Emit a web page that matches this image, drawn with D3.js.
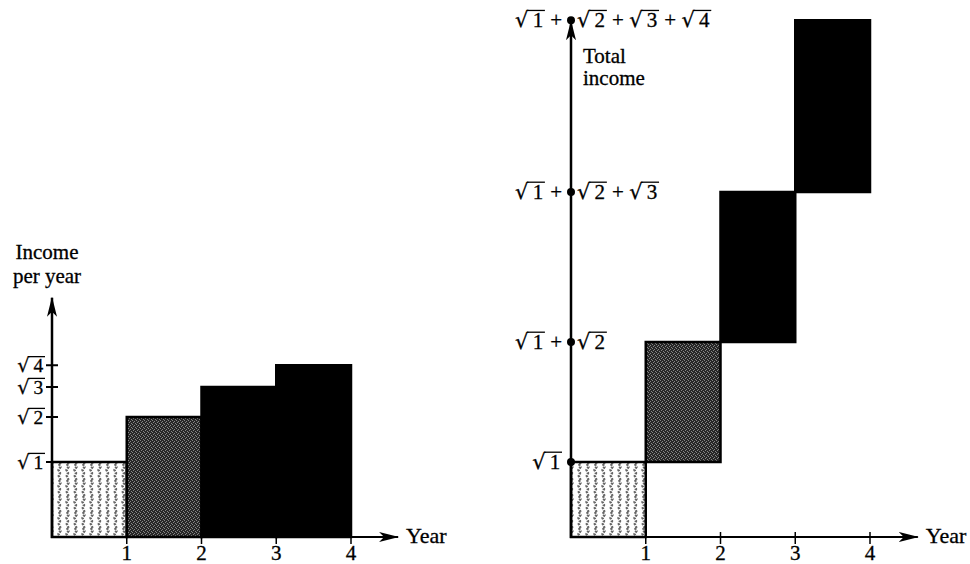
<!DOCTYPE html>
<html><head><meta charset="utf-8">
<script src="https://cdn.jsdelivr.net/npm/d3@7"></script>
<style>
html,body{margin:0;padding:0;background:#fff;}
svg text{font-family:"Liberation Serif","Times New Roman",serif;fill:#000;stroke:#000;stroke-width:0.3;}
svg text tspan.rad{font-family:"DejaVu Serif",serif;}
</style>
</head><body>
<svg id="c" width="970" height="564"></svg>
<script>
// ---- data (drawing is not to scale in the original) ----
const years = [1, 2, 3, 4];
const incomeHeights = [1.0, 1.6, 2.0, 2.29];     // drawn bar heights, unit = height of √1
const radicands = [1, 2, 3, 4];                   // y tick labels √1 … √4
const xTickLabels = ["1", "2", "3", "4"];
const leftYTitle = ["Income", "per year"];
const rightYTitle = ["Total", "income"];
const xTitle = "Year";
const barFills = ["url(#light)", "url(#dark)", "#000", "#000"];

const RAD_FS = 21, LBL_FS = 21;
const svg = d3.select("#c");
const defs = svg.append("defs");

// light wavy stipple pattern
const pl = defs.append("pattern").attr("id","light").attr("patternUnits","userSpaceOnUse")
  .attr("width",8).attr("height",16);
pl.append("rect").attr("width",8).attr("height",16).attr("fill","#fff");
pl.append("path").attr("d","M3,0 L4.5,3 L2.5,6 L4,9 L2.8,12 L4.5,16")
  .attr("fill","none").attr("stroke","#666").attr("stroke-width",2.4).attr("stroke-dasharray","2 1.2");
// dark stipple pattern
const pd = defs.append("pattern").attr("id","dark").attr("patternUnits","userSpaceOnUse")
  .attr("width",4).attr("height",4);
pd.append("rect").attr("width",4).attr("height",4).attr("fill","#262626");
[[0,0],[2,1],[1,2],[3,3]].forEach(([x,y]) => pd.append("rect").attr("x",x).attr("y",y).attr("width",1).attr("height",1).attr("fill","#858585"));
// arrowhead
defs.append("marker").attr("id","arr").attr("viewBox","0 0 20 10").attr("refX",19).attr("refY",5)
  .attr("markerWidth",20).attr("markerHeight",10).attr("markerUnits","userSpaceOnUse").attr("orient","auto")
  .append("path").attr("d","M0,0 L20,5 L0,10 L5,5 Z").attr("fill","#000");

// radical label helper: appends "√n" terms joined by " + ", then draws the vinculum bars
function radicals(textSel, nums, trailingPlus, parent) {
  const spans = [];
  let idx = 0;
  nums.forEach((n, i) => {
    textSel.append("tspan").attr("class","rad").text("\u221A"); idx += 1;
    const s = "\u2009" + n + "\u200A";
    textSel.append("tspan").text(s);
    spans.push([idx - 1, idx + s.length - 1]); idx += s.length;
    if (i < nums.length - 1 || trailingPlus) { textSel.append("tspan").text(" + "); idx += 3; }
  });
  const node = textSel.node();
  const fs = +textSel.attr("font-size");
  const yb = +textSel.attr("y");
  spans.forEach(([a, b]) => {
    const x0 = node.getEndPositionOfChar(a).x - 1.5;
    const x1 = node.getEndPositionOfChar(b).x;
    parent.append("line").attr("x1", x0).attr("x2", x1)
      .attr("y1", yb - 0.80 * fs).attr("y2", yb - 0.80 * fs)
      .attr("stroke", "#000").attr("stroke-width", 1.3);
  });
}

// ================= LEFT CHART =================
const xL = d3.scaleLinear().domain([0, 4]).range([52, 351]);
const yL = d3.scaleLinear().domain([0, 1]).range([537, 462]);
const gL = svg.append("g");

gL.selectAll("rect.bar").data(years).join("rect")
  .attr("x", (d,i) => xL(i)).attr("width", (d,i) => xL(i+1) - xL(i))
  .attr("y", (d,i) => yL(incomeHeights[i])).attr("height", (d,i) => yL(0) - yL(incomeHeights[i]))
  .attr("fill", (d,i) => barFills[i]).attr("stroke", "#000").attr("stroke-width", 2.5);

// axes
gL.append("line").attr("x1", xL(0)).attr("x2", xL(4.63)).attr("y1", yL(0)).attr("y2", yL(0))
  .attr("stroke","#000").attr("stroke-width",2).attr("marker-end","url(#arr)");
gL.append("line").attr("x1", xL(0)).attr("x2", xL(0)).attr("y1", yL(0)+1).attr("y2", yL(3.19))
  .attr("stroke","#000").attr("stroke-width",2.5).attr("marker-end","url(#arr)");
// y ticks
gL.selectAll("line.yt").data(incomeHeights).join("line")
  .attr("x1", xL(0)-6).attr("x2", xL(0)+6).attr("y1", d => yL(d)).attr("y2", d => yL(d))
  .attr("stroke","#000").attr("stroke-width",2);
radicands.forEach((r, i) => {
  const t = gL.append("text").attr("x", xL(0)-7).attr("y", yL(incomeHeights[i]) + 7)
    .attr("text-anchor","end").attr("font-size",19.5);
  radicals(t, [r], false, gL);
});
// x ticks
gL.selectAll("line.xt").data(years).join("line")
  .attr("x1", d => xL(d)).attr("x2", d => xL(d)).attr("y1", yL(0)-5).attr("y2", yL(0)+7)
  .attr("stroke","#000").attr("stroke-width",1.5);
gL.selectAll("text.xl").data(xTickLabels).join("text")
  .attr("x", (d,i) => xL(years[i])).attr("y", yL(0)+23).attr("text-anchor","middle")
  .attr("font-size",LBL_FS).text(d => d);
gL.append("text").attr("x", xL(4.63)+8).attr("y", yL(0)+6).attr("font-size",LBL_FS+1).text(xTitle);
gL.selectAll("text.yt2").data(leftYTitle).join("text")
  .attr("x", 47).attr("y", (d,i) => 259 + i*24).attr("text-anchor","middle").attr("font-size",LBL_FS).text(d => d);

// ================= RIGHT CHART =================
const cum = Array.from(d3.cumsum(incomeHeights));
const starts = [0, ...cum.slice(0, -1)];
const xR = d3.scaleLinear().domain([0, 4]).range([571, 870]);
const yR = d3.scaleLinear().domain([0, 1]).range([537, 462]);
const gR = svg.append("g");

gR.selectAll("rect.bar").data(years).join("rect")
  .attr("x", (d,i) => xR(i)).attr("width", (d,i) => xR(i+1) - xR(i))
  .attr("y", (d,i) => yR(cum[i])).attr("height", (d,i) => yR(starts[i]) - yR(cum[i]))
  .attr("fill", (d,i) => barFills[i]).attr("stroke", "#000").attr("stroke-width", 2.5);

gR.append("line").attr("x1", xR(0)).attr("x2", xR(4.64)).attr("y1", yR(0)).attr("y2", yR(0))
  .attr("stroke","#000").attr("stroke-width",2).attr("marker-end","url(#arr)");
gR.append("line").attr("x1", xR(0)).attr("x2", xR(0)).attr("y1", yR(0)+1).attr("y2", yR(cum[3]) + 1)
  .attr("stroke","#000").attr("stroke-width",2.5).attr("marker-end","url(#arr)");
gR.selectAll("circle").data(cum).join("circle")
  .attr("cx", xR(0)).attr("cy", d => yR(d)).attr("r", 4).attr("fill","#000");
// x ticks
gR.selectAll("line.xt").data(years).join("line")
  .attr("x1", d => xR(d)).attr("x2", d => xR(d)).attr("y1", yR(0)-5).attr("y2", yR(0)+7)
  .attr("stroke","#000").attr("stroke-width",1.5);
gR.selectAll("text.xl").data(xTickLabels).join("text")
  .attr("x", (d,i) => xR(years[i])).attr("y", yR(0)+23).attr("text-anchor","middle")
  .attr("font-size",LBL_FS).text(d => d);
gR.append("text").attr("x", xR(4.64)+8).attr("y", yR(0)+6).attr("font-size",LBL_FS+1).text(xTitle);
// cumulative labels
cum.forEach((c, i) => {
  const y = yR(c) + 7;
  const left = gR.append("text").attr("x", xR(0) - 9).attr("y", y).attr("text-anchor","end").attr("font-size",RAD_FS);
  radicals(left, [radicands[0]], i > 0, gR);
  if (i > 0) {
    const right = gR.append("text").attr("x", xR(0) + 6).attr("y", y).attr("font-size",RAD_FS);
    radicals(right, radicands.slice(1, i + 1), false, gR);
  }
});
gR.selectAll("text.yt2").data(rightYTitle).join("text")
  .attr("x", 583).attr("y", (d,i) => 63 + i*22).attr("font-size",LBL_FS).text(d => d);
</script>
</body></html>
